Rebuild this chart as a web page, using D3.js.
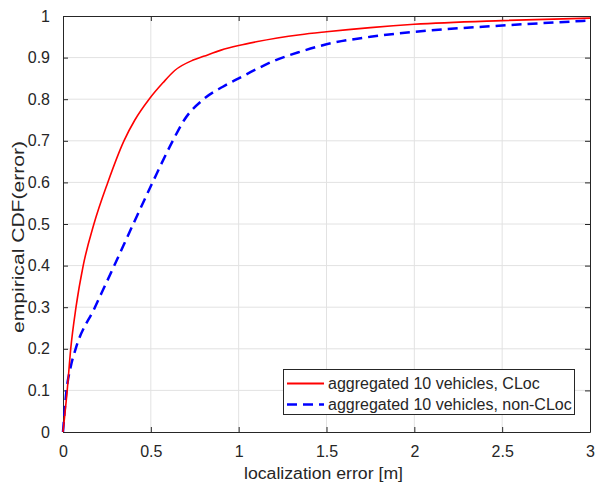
<!DOCTYPE html>
<html>
<head>
<meta charset="utf-8">
<script src="https://cdn.jsdelivr.net/npm/d3@7"></script>
<style>
  html, body { margin: 0; padding: 0; background: #fff; }
  svg { display: block; }
  text { font-family: "Liberation Sans", Arial, Helvetica, sans-serif; fill: #262626; }
</style>
</head>
<body>
<svg id="chart" width="595" height="484"></svg>
<script>
// ---- data ----
const clocX = [0, 0.024, 0.044, 0.074, 0.115, 0.176, 0.255, 0.347, 0.409, 0.49, 0.57, 0.636, 0.741, 0.80, 0.90, 1.0, 1.1, 1.35, 1.5, 1.75, 2.0, 2.5, 3.0];
const clocY = [0, 0.1, 0.2, 0.3, 0.4, 0.5, 0.6, 0.7, 0.75, 0.8, 0.84, 0.869, 0.894, 0.903, 0.918, 0.929, 0.938, 0.955, 0.962, 0.972, 0.98, 0.989, 0.995];
const nonX = [0, 0.02, 0.044, 0.072, 0.182, 0.292, 0.40, 0.51, 0.625, 0.69, 0.80, 0.91, 1.0, 1.1, 1.2, 1.35, 1.5, 1.75, 2.0, 2.5, 3.0];
const nonY = [0, 0.1, 0.157, 0.2, 0.3, 0.4, 0.5, 0.6, 0.7, 0.75, 0.8, 0.83, 0.85, 0.872, 0.892, 0.914, 0.932, 0.95, 0.962, 0.977, 0.989];
const xTicks = [0, 0.5, 1, 1.5, 2, 2.5, 3];
const yTicks = [0, 0.1, 0.2, 0.3, 0.4, 0.5, 0.6, 0.7, 0.8, 0.9, 1];
const seriesNames = ["aggregated 10 vehicles, CLoc", "aggregated 10 vehicles, non-CLoc"];
const xLabel = "localization error [m]";
const yLabel = "empirical CDF(error)";

const svg = d3.select("#chart");
const L = 63, R = 590, T = 16, B = 432;
const x = d3.scaleLinear().domain([0, 3]).range([L, R]);
const y = d3.scaleLinear().domain([0, 1]).range([B, T]);
const axisCol = "#262626";

// grid
const g = svg.append("g");
g.selectAll(".gx").data(xTicks.slice(1, -1)).join("line")
  .attr("x1", d => x(d)).attr("x2", d => x(d)).attr("y1", T).attr("y2", B)
  .attr("stroke", "#e2e2e2").attr("stroke-width", 1);
g.selectAll(".gy").data(yTicks.slice(1, -1)).join("line")
  .attr("x1", L).attr("x2", R).attr("y1", d => y(d)).attr("y2", d => y(d))
  .attr("stroke", "#e2e2e2").attr("stroke-width", 1);

// axes (ticks inward, box)
const fmt = d => d3.format("")(d);
const ax = svg.append("g").attr("transform", `translate(0,${B})`)
  .call(d3.axisBottom(x).tickValues(xTicks).tickSizeInner(-5).tickSizeOuter(0).tickPadding(14).tickFormat(fmt));
const ay = svg.append("g").attr("transform", `translate(${L},0)`)
  .call(d3.axisLeft(y).tickValues(yTicks).tickSizeInner(-5).tickSizeOuter(0).tickPadding(13).tickFormat(fmt));
const at = svg.append("g").attr("transform", `translate(0,${T})`)
  .call(d3.axisTop(x).tickValues(xTicks).tickSizeInner(-5).tickSizeOuter(0).tickFormat(""));
const ar = svg.append("g").attr("transform", `translate(${R},0)`)
  .call(d3.axisRight(y).tickValues(yTicks).tickSizeInner(-5).tickSizeOuter(0).tickFormat(""));
[ax, ay, at, ar].forEach(a => {
  a.selectAll("path").attr("stroke", axisCol).attr("stroke-width", 1);
  a.selectAll("line").attr("stroke", axisCol).attr("stroke-width", 1);
  a.selectAll("text").attr("fill", axisCol).style("font-size", "16px")
    .style("font-family", '"Liberation Sans", Arial, sans-serif');
});

// lines
const line = d3.line().x(d => x(d[0])).y(d => y(d[1])).curve(d3.curveMonotoneX);
const clocData = d3.zip(clocX, clocY);
const nonData = d3.zip(nonX, nonY);
svg.append("path").datum(nonData).attr("d", line)
  .attr("fill", "none").attr("stroke", "#0000ff").attr("stroke-width", 2.5)
  .attr("stroke-dasharray", "10,6");
svg.append("path").datum(clocData).attr("d", line)
  .attr("fill", "none").attr("stroke", "#ff0000").attr("stroke-width", 1.6);

// axis labels
svg.append("text").attr("x", 323.5).attr("y", 478.5).attr("text-anchor", "middle")
  .style("font-size", "16px").attr("textLength", 159).attr("lengthAdjust", "spacingAndGlyphs")
  .text(xLabel);
svg.append("text").attr("transform", "translate(23.5,237) rotate(-90)").attr("text-anchor", "middle")
  .style("font-size", "16px").attr("textLength", 192).attr("lengthAdjust", "spacingAndGlyphs")
  .text(yLabel);

// legend
const lg = svg.append("g");
lg.append("rect").attr("x", 283.5).attr("y", 369.5).attr("width", 291).attr("height", 45)
  .attr("fill", "#fff").attr("stroke", axisCol).attr("stroke-width", 1);
const rows = [
  { name: seriesNames[0], color: "#ff0000", dash: null, w: 2, yy: 383.5 },
  { name: seriesNames[1], color: "#0000ff", dash: "10,6", w: 2.5, yy: 404.5 }
];
rows.forEach(r => {
  lg.append("line").attr("x1", 287).attr("x2", 324).attr("y1", r.yy).attr("y2", r.yy)
    .attr("stroke", r.color).attr("stroke-width", r.w).attr("stroke-dasharray", r.dash);
  lg.append("text").attr("x", 328).attr("y", r.yy).attr("dy", "0.35em")
    .style("font-size", "16px").text(r.name);
});
</script>
</body>
</html>
